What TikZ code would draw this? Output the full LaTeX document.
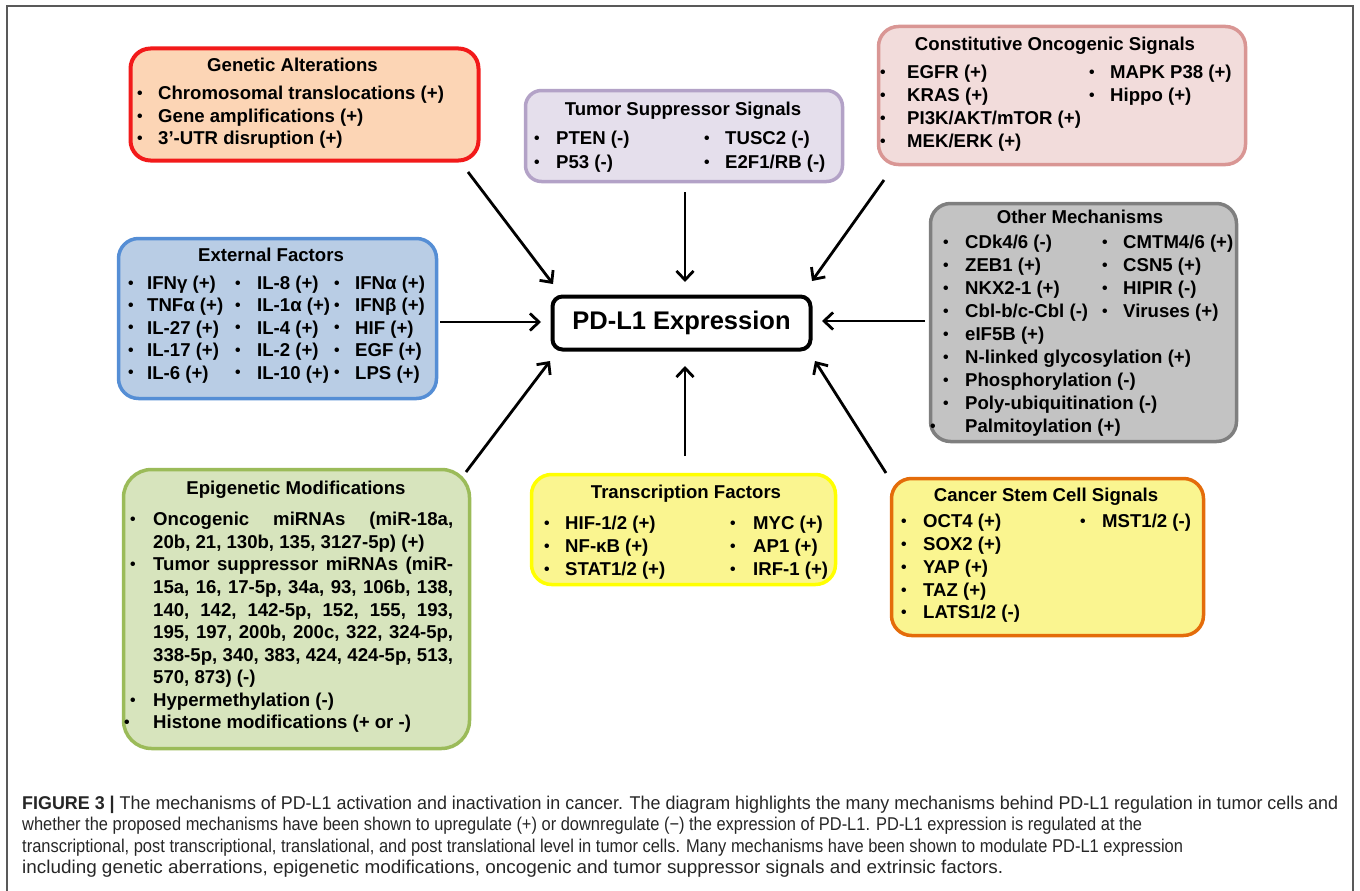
\documentclass[tikz,border=0pt]{standalone}
\usepackage{fontspec}
\setmainfont{Liberation Sans}
\usepackage{graphicx}
\usetikzlibrary{arrows.meta}
\definecolor{gaB}{HTML}{F21A1A}\definecolor{gaF}{HTML}{FCD5B5}
\definecolor{tsB}{HTML}{B3A2C7}\definecolor{tsF}{HTML}{E5DFEC}
\definecolor{coB}{HTML}{D99694}\definecolor{coF}{HTML}{F2DCDB}
\definecolor{efB}{HTML}{558ED5}\definecolor{efF}{HTML}{B9CDE5}
\definecolor{omB}{HTML}{7F7F7F}\definecolor{omF}{HTML}{C3C3C3}
\definecolor{epB}{HTML}{9BBB59}\definecolor{epF}{HTML}{D7E4BD}
\definecolor{tfB}{HTML}{FFFF00}\definecolor{tfF}{HTML}{FAF590}
\definecolor{csB}{HTML}{E46C0A}\definecolor{csF}{HTML}{FAF590}
\definecolor{capC}{HTML}{262626}
\newcommand\mybul{\raisebox{0.08em}{\scalebox{0.85}{\textbullet}}}
\newcommand\bitem[5]{\node[itm] (#1) at (#2,{#4+6.6}) {\makebox[\dimexpr #3pt-#2pt\relax][l]{\mybul}#5};}
\newcommand\jline[4]{\node[itm] (#1) at (#2,{#3+6.6}) {\makebox[300pt][s]{#4}};}
\newcommand\pline[4]{\node[itm] (#1) at (#2,{#3+6.6}) {#4};}
\newcommand\ttl[4]{\node[ttlsty] (#1) at (#2,{#3+6.6}) {#4};}
\newcommand\capline[4]{\node[capsty] (#1) at (22,{#2+6.4}) {\resizebox{#3pt}{\height}{#4}};}
\begin{document}
\begin{tikzpicture}[x=1pt,y=-1pt,
  box/.style={rounded corners=20pt,line width=3.5pt,inner sep=0pt},
  itm/.style={anchor=base west,inner sep=0pt,font=\fontsize{18.6}{22}\selectfont\bfseries},
  ttlsty/.style={anchor=base,inner sep=0pt,font=\fontsize{18.6}{22}\selectfont\bfseries},
  capsty/.style={anchor=base west,inner sep=0pt,text=capC,font=\fontsize{18.5}{20}\selectfont},
  arr/.style={line width=2.8pt,-{Straight Barb[length=9pt,width=17pt]}},
  frame/.style={line width=2pt,draw=black!65}]
\useasboundingbox (0,0) rectangle (1360,891);
\draw[frame] (7,891) -- (7,6) -- (1353,6) -- (1353,891);

% boxes
\node[box,draw=gaB,fill=gaF,line width=4pt,minimum width=348pt,minimum height=112pt] (ga) at (304.5,104.5) {};
\node[box,rounded corners=16pt,draw=tsB,fill=tsF,minimum width=317pt,minimum height=91pt] (ts) at (684,136) {};
\node[box,draw=coB,fill=coF,minimum width=367pt,minimum height=138pt] (co) at (1062,95.5) {};
\node[box,draw=efB,fill=efF,minimum width=318pt,minimum height=160pt] (ef) at (277.5,318.5) {};
\node[box,draw=omB,fill=omF,minimum width=306pt,minimum height=238pt] (om) at (1083.5,322.5) {};
\node[box,rounded corners=28pt,draw=epB,fill=epF,minimum width=346pt,minimum height=279pt] (ep) at (296.5,609) {};
\node[box,draw=tfB,fill=tfF,minimum width=304pt,minimum height=110pt] (tf) at (683.5,529.5) {};
\node[box,draw=csB,fill=csF,minimum width=312pt,minimum height=157pt] (cs) at (1047.5,557) {};
\node[rounded corners=10pt,line width=4pt,draw=black,fill=white,minimum width=258pt,minimum height=53pt,font=\fontsize{25.5}{28}\selectfont\bfseries] (pd) at (681.5,323) {PD-L1 Expression};

% Genetic Alterations
\ttl{gat}{292.5}{65}{Genetic Alterations}
\bitem{ga1}{137}{158}{93}{Chromosomal translocations (+)}
\bitem{ga2}{137}{158}{116}{Gene amplifications (+)}
\bitem{ga3}{137}{158}{138}{3’-UTR disruption (+)}

% Tumor Suppressor Signals
\ttl{tst}{683}{109}{Tumor Suppressor Signals}
\bitem{ts1}{534}{556}{138}{PTEN (-)}
\bitem{ts2}{534}{556}{162}{P53 (-)}
\bitem{ts3}{704}{725}{138}{TUSC2 (-)}
\bitem{ts4}{704}{725}{162}{E2F1/RB (-)}

% Constitutive Oncogenic Signals
\ttl{cot}{1055}{44}{Constitutive Oncogenic Signals}
\bitem{co1}{880}{907}{72}{EGFR (+)}
\bitem{co2}{880}{907}{95}{KRAS (+)}
\bitem{co3}{880}{907}{118}{PI3K/AKT/mTOR (+)}
\bitem{co4}{880}{907}{141}{MEK/ERK (+)}
\bitem{co5}{1089}{1110}{72}{MAPK P38 (+)}
\bitem{co6}{1089}{1110}{95}{Hippo (+)}

% External Factors
\ttl{eft}{271}{255}{External Factors}
\bitem{ef1}{128}{147}{283}{IFNγ (+)}
\bitem{ef2}{128}{147}{305}{TNFα (+)}
\bitem{ef3}{128}{147}{327.5}{IL-27 (+)}
\bitem{ef4}{128}{147}{350}{IL-17 (+)}
\bitem{ef5}{128}{147}{372.5}{IL-6 (+)}
\bitem{ef6}{235}{257}{283}{IL-8 (+)}
\bitem{ef7}{235}{257}{305}{IL-1α (+)}
\bitem{ef8}{235}{257}{327.5}{IL-4 (+)}
\bitem{ef9}{235}{257}{350}{IL-2 (+)}
\bitem{ef10}{235}{257}{372.5}{IL-10 (+)}
\bitem{ef11}{334}{355}{283}{IFNα (+)}
\bitem{ef12}{334}{355}{305}{IFNβ (+)}
\bitem{ef13}{334}{355}{327.5}{HIF (+)}
\bitem{ef14}{334}{355}{350}{EGF (+)}
\bitem{ef15}{334}{355}{372.5}{LPS (+)}

% Other Mechanisms
\ttl{omt}{1080}{217}{Other Mechanisms}
\bitem{om1}{943}{965}{242}{CDk4/6 (-)}
\bitem{om2}{943}{965}{265}{ZEB1 (+)}
\bitem{om3}{943}{965}{288}{NKX2-1 (+)}
\bitem{om4}{943}{965}{311}{Cbl-b/c-Cbl (-)}
\bitem{om5}{943}{965}{334}{eIF5B (+)}
\bitem{om6}{943}{965}{357}{N-linked glycosylation (+)}
\bitem{om7}{943}{965}{380}{Phosphorylation (-)}
\bitem{om8}{943}{965}{403}{Poly-ubiquitination (-)}
\bitem{om9}{930}{965}{426}{Palmitoylation (+)}
\bitem{om10}{1102}{1123}{242}{CMTM4/6 (+)}
\bitem{om11}{1102}{1123}{265}{CSN5 (+)}
\bitem{om12}{1102}{1123}{288}{HIPIR (-)}
\bitem{om13}{1102}{1123}{311}{Viruses (+)}

% Epigenetic Modifications
\ttl{ept}{296}{488}{Epigenetic Modifications}
\node[itm] (epb1) at (130,{519+6.6}) {\mybul};
\jline{ep1}{153}{519}{Oncogenic miRNAs (miR-18a,}
\pline{ep2}{153}{541.6}{20b, 21, 130b, 135, 3127-5p) (+)}
\node[itm] (epb2) at (130,{564+6.6}) {\mybul};
\jline{ep3}{153}{564}{Tumor suppressor miRNAs (miR-}
\jline{ep4}{153}{587}{15a, 16, 17-5p, 34a, 93, 106b, 138,}
\jline{ep5}{153}{609.5}{140, 142, 142-5p, 152, 155, 193,}
\jline{ep6}{153}{632}{195, 197, 200b, 200c, 322, 324-5p,}
\jline{ep7}{153}{655}{338-5p, 340, 383, 424, 424-5p, 513,}
\pline{ep8}{153}{677}{570, 873) (-)}
\bitem{ep9}{130}{153}{700}{Hypermethylation (-)}
\bitem{ep10}{124}{153}{722}{Histone modifications (+ or -)}

% Transcription Factors
\ttl{tft}{686}{492}{Transcription Factors}
\bitem{tf1}{544}{565}{523}{HIF-1/2 (+)}
\bitem{tf2}{544}{565}{546}{NF-κB (+)}
\bitem{tf3}{544}{565}{569}{STAT1/2 (+)}
\bitem{tf4}{730}{753}{523}{MYC (+)}
\bitem{tf5}{730}{753}{546}{AP1 (+)}
\bitem{tf6}{730}{753}{569}{IRF-1 (+)}

% Cancer Stem Cell Signals
\ttl{cst}{1046}{495}{Cancer Stem Cell Signals}
\bitem{cs1}{901}{923}{521}{OCT4 (+)}
\bitem{cs2}{901}{923}{544}{SOX2 (+)}
\bitem{cs3}{901}{923}{567}{YAP (+)}
\bitem{cs4}{901}{923}{590}{TAZ (+)}
\bitem{cs5}{901}{923}{612}{LATS1/2 (-)}
\bitem{cs6}{1080}{1102}{521}{MST1/2 (-)}

% arrows
\coordinate (a1s) at (468,172); \coordinate (a1e) at (553,284);
\coordinate (a2s) at (685,192); \coordinate (a2e) at (685,282);
\coordinate (a3s) at (884,180); \coordinate (a3e) at (812,281);
\coordinate (a4s) at (440,322); \coordinate (a4e) at (541,322);
\coordinate (a5s) at (925,321); \coordinate (a5e) at (822,321);
\coordinate (a6s) at (466,472); \coordinate (a6e) at (550,361);
\coordinate (a7s) at (685,456); \coordinate (a7e) at (685,366);
\coordinate (a8s) at (886,473); \coordinate (a8e) at (815,361);
\foreach \i in {1,...,8} {\draw[arr] (a\i s) -- (a\i e);}

% caption
\capline{c1}{803}{1316}{\textbf{FIGURE 3 |} The mechanisms of PD-L1 activation and inactivation in cancer. The diagram highlights the many mechanisms behind PD-L1 regulation in tumor cells and}
\capline{c2}{824.5}{1120}{whether the proposed mechanisms have been shown to upregulate (+) or downregulate (−) the expression of PD-L1. PD-L1 expression is regulated at the}
\capline{c3}{846}{1161}{transcriptional, post transcriptional, translational, and post translational level in tumor cells. Many mechanisms have been shown to modulate PD-L1 expression}
\capline{c4}{867.5}{981}{including genetic aberrations, epigenetic modifications, oncogenic and tumor suppressor signals and extrinsic factors.}
\end{tikzpicture}
\end{document}
